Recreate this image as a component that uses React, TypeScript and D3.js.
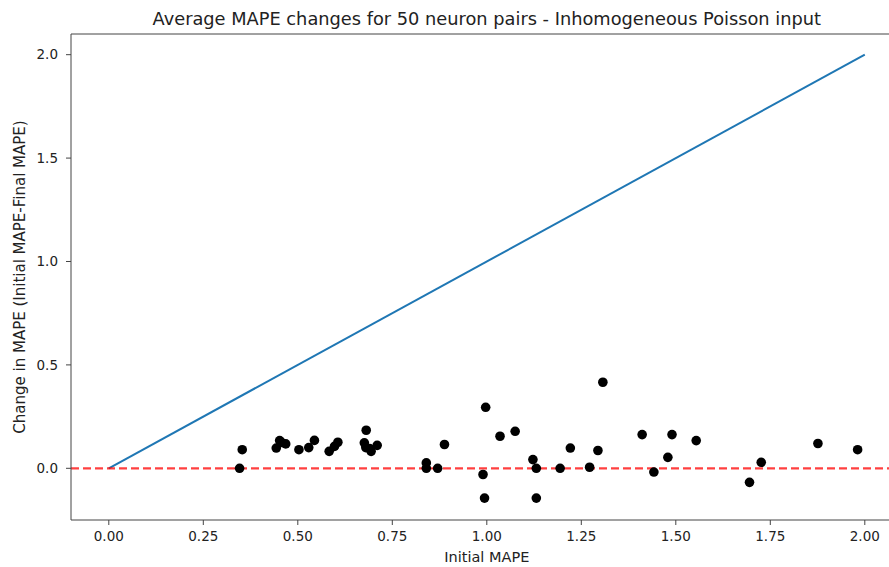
import React from "react";
import * as d3 from "d3";

// initial MAPE (x) and change in MAPE (y) for each neuron pair
const initialMape = [
  0.346, 0.353, 0.443, 0.452, 0.457, 0.468, 0.503, 0.529, 0.544, 0.583, 0.597, 0.606,
  0.681, 0.676, 0.68, 0.69, 0.694, 0.71, 0.84, 0.84, 0.87, 0.888, 0.99, 0.994, 0.997,
  1.035, 1.075, 1.122, 1.131, 1.131, 1.194, 1.221, 1.272, 1.294, 1.307, 1.411, 1.442,
  1.479, 1.49, 1.554, 1.695, 1.726, 1.876, 1.981,
];
const mapeChange = [
  0.0, 0.09, 0.098, 0.134, 0.125, 0.118, 0.09, 0.1, 0.135, 0.082, 0.106, 0.126,
  0.184, 0.123, 0.1, 0.095, 0.082, 0.111, 0.026, 0.0, 0.0, 0.115, -0.03, -0.144, 0.295,
  0.155, 0.179, 0.042, 0.0, -0.144, 0.0, 0.098, 0.005, 0.086, 0.416, 0.163, -0.018,
  0.053, 0.163, 0.134, -0.068, 0.029, 0.12, 0.09,
];

const xTicks = [0, 0.25, 0.5, 0.75, 1.0, 1.25, 1.5, 1.75, 2.0];
const yTicks = [0, 0.5, 1.0, 1.5, 2.0];
const identityLine = [0, 2];

const App = () => {
  const width = 889;
  const height = 567;
  const margin = { top: 34, left: 71, bottom: 520 };
  const unitX = 378;

  const x = d3.scaleLinear().domain([-0.1, 2.1]).range([margin.left, margin.left + 2.2 * unitX]);
  const y = d3.scaleLinear().domain([-0.25, 2.1]).range([margin.bottom, margin.top]);

  const line = d3
    .line<number>()
    .x((d) => x(d))
    .y((d) => y(d));

  const font = "DejaVu Sans, sans-serif";
  const axisColor = "#444";
  const cx = (margin.left + x(2.1)) / 2;

  return (
    <div style={{ position: "absolute", left: 0, top: 0 }}>
      <svg width={width} height={height} style={{ display: "block", background: "#fff" }}>
        <defs>
          <clipPath id="plot">
            <rect x={x(-0.1)} y={y(2.1)} width={x(2.1) - x(-0.1)} height={y(-0.25) - y(2.1)} />
          </clipPath>
        </defs>

        <g clipPath="url(#plot)">
          <path d={line(identityLine) || ""} fill="none" stroke="#1f77b4" strokeWidth={2} />
          <line
            x1={x(-0.1)}
            x2={x(2.1)}
            y1={y(0)}
            y2={y(0)}
            stroke="#ff0000"
            strokeOpacity={0.75}
            strokeWidth={2.2}
            strokeDasharray="8,4"
          />
          {initialMape.map((v, i) => (
            <circle key={i} cx={x(v)} cy={y(mapeChange[i])} r={4.8} fill="#000" />
          ))}
        </g>

        {/* spines */}
        <line x1={x(-0.1)} x2={x(-0.1)} y1={y(2.1)} y2={y(-0.25)} stroke={axisColor} strokeWidth={1} />
        <line x1={x(-0.1)} x2={x(2.1)} y1={y(2.1)} y2={y(2.1)} stroke={axisColor} strokeWidth={1} />
        <line x1={x(-0.1)} x2={x(2.1)} y1={y(-0.25)} y2={y(-0.25)} stroke={axisColor} strokeWidth={1} />

        {xTicks.map((t) => (
          <g key={t} transform={`translate(${x(t)},${y(-0.25)})`}>
            <line y2={5} stroke={axisColor} />
            <text y={21} textAnchor="middle" fontFamily={font} fontSize={13.5} fill="#222">
              {t.toFixed(2)}
            </text>
          </g>
        ))}

        {yTicks.map((t) => (
          <g key={t} transform={`translate(${x(-0.1)},${y(t)})`}>
            <line x2={-5} stroke={axisColor} />
            <text x={-13} dy="0.35em" textAnchor="end" fontFamily={font} fontSize={13.5} fill="#222">
              {t.toFixed(1)}
            </text>
          </g>
        ))}

        <text x={cx} y={25} textAnchor="middle" fontFamily={font} fontSize={17.8} fill="#222">
          Average MAPE changes for 50 neuron pairs - Inhomogeneous Poisson input
        </text>
        <text x={cx} y={562} textAnchor="middle" fontFamily={font} fontSize={14.5} fill="#222">
          Initial MAPE
        </text>
        <text
          transform={`translate(25,${(margin.top + margin.bottom) / 2}) rotate(-90)`}
          textAnchor="middle"
          fontFamily={font}
          fontSize={15}
          fill="#222"
        >
          Change in MAPE (Initial MAPE-Final MAPE)
        </text>
      </svg>
    </div>
  );
};

export default App;
